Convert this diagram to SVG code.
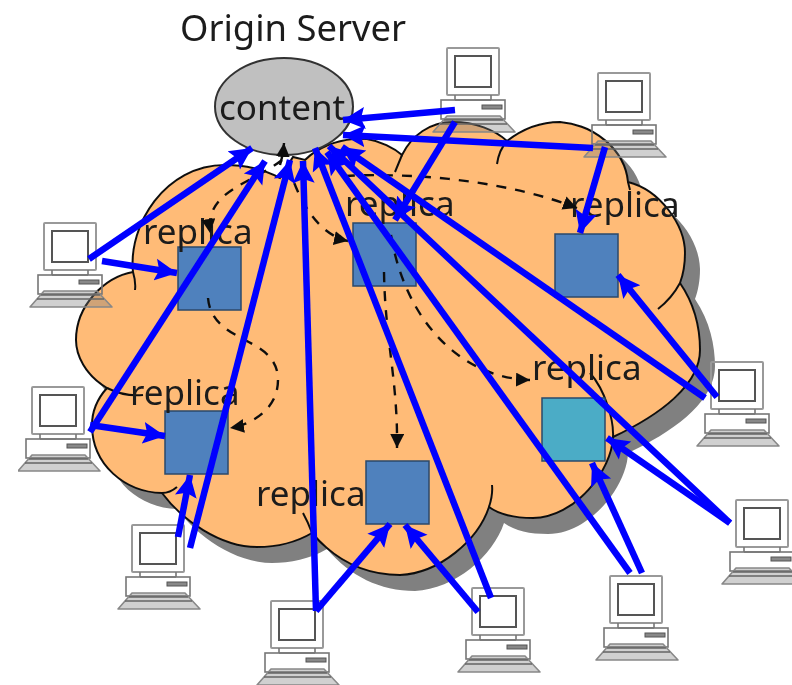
<svg xmlns="http://www.w3.org/2000/svg" xmlns:xlink="http://www.w3.org/1999/xlink" width="792" height="685" viewBox="0 0 792 685">
<style>
.t{font-family:"Noto Sans","Open Sans","Liberation Sans",sans-serif;font-size:35px;fill:#1a1a1a}
.sq{fill:#4f81bd;stroke:#2b4a6b;stroke-width:1.5}
.dash{fill:none;stroke:#111;stroke-width:2.4;stroke-dasharray:10 9}
.tail{fill:none;stroke:#111;stroke-width:2}
.blue{fill:none;stroke:#0000ff;stroke-width:6.5;marker-end:url(#bh)}
.mo{fill:none;stroke:#999;stroke-width:2}
.mi{fill:none;stroke:#555;stroke-width:2}
.ba{fill:none;stroke:#777;stroke-width:1.6}
</style>
<defs>
<filter id="soft" x="0" y="0" width="100%" height="100%"><feGaussianBlur stdDeviation="0.55"/></filter>
<marker id="bh" markerUnits="userSpaceOnUse" markerWidth="24" markerHeight="24" refX="22" refY="12" orient="auto"><path d="M0,1 L22,12 L0,23 L4,12 Z" fill="#0000ff"/></marker>
<marker id="kh" markerUnits="userSpaceOnUse" markerWidth="16" markerHeight="16" refX="14" refY="7" orient="auto"><path d="M0,0 L14,7 L0,14 Z" fill="#111"/></marker>
<path id="cloud" d="M133,272 C128,225 165,165 225,165 C245,165 265,170 280,178 L293,157 L305,160 C320,145 345,137 367,139 C380,141 394,148 402,155 C412,135 430,122 453,122 C475,122 495,130 507,141 C525,127 545,122 560,122 C595,125 625,150 628,182 C660,190 685,225 685,253 C685,265 683,275 680,283 C695,305 700,330 700,350 C700,385 660,415 613,437 C612,470 575,518 533,518 C515,518 500,515 489,507 C478,540 440,573 400,575 C365,575 335,560 312,533 C295,543 275,547 257,547 C220,547 182,520 162,493 C125,492 92,465 92,425 C92,410 98,398 107,388 C85,375 76,355 76,340 C76,305 105,277 133,272 Z"/>
<g id="pc">
<rect class="mo" x="0" y="0" width="52" height="47" rx="1"/>
<rect class="mi" x="8" y="8" width="36" height="31"/>
<path class="ba" d="M8,47 V52 M44,47 V52 M8,52 H44"/>
<rect class="ba" x="-6" y="52" width="64" height="19"/>
<rect x="35" y="57" width="20" height="4" fill="#888" stroke="#555"/>
<path d="M0,68 H53 L68,84 H-14 Z" fill="#777" fill-opacity=".35" stroke="#888" stroke-width="1.6" stroke-linejoin="round"/>
<path d="M-3,72 H56 M-7,76 H60" stroke="#666" stroke-width="1.6" fill="none"/>
</g>
</defs>
<g filter="url(#soft)">
<g id="cloud-shape">
<use href="#cloud" x="15" y="16" fill="#808080"/>
<use href="#cloud" fill="#ffbb77" stroke="#111" stroke-width="2"/>
<path class="tail" d="M133,272 Q136,282 135,290 M107,388 Q125,397 143,395 M162,493 Q170,493 177,487 M312,533 Q308,522 303,513 M489,507 Q493,495 492,485 M613,437 C614,420 605,390 590,373 M680,283 Q672,298 658,309 M628,182 L630,190 M507,141 Q499,150 497,164 M402,155 L395,172"/>
</g>
<g id="client-1"><use href="#pc" x="44" y="223"/></g>
<g id="client-2"><use href="#pc" x="447" y="48"/></g>
<g id="client-3"><use href="#pc" x="598" y="73"/></g>
<g id="client-4"><use href="#pc" x="711" y="362"/></g>
<g id="client-5"><use href="#pc" x="736" y="500"/></g>
<g id="client-6"><use href="#pc" x="610" y="576"/></g>
<g id="client-7"><use href="#pc" x="472" y="588"/></g>
<g id="client-8"><use href="#pc" x="271" y="601"/></g>
<g id="client-9"><use href="#pc" x="132" y="525"/></g>
<g id="client-10"><use href="#pc" x="32" y="387"/></g>
<g id="origin"><ellipse cx="284" cy="106.5" rx="69" ry="48.5" fill="#c0c0c0" stroke="#333" stroke-width="2"/><text class="t" x="219" y="120">content</text><text class="t" x="180" y="41" style="font-size:36.4px">Origin Server</text></g>
<g id="replica-a"><rect class="sq" x="178" y="247" width="63" height="63"/><text class="t" x="143" y="244">replica</text></g>
<g id="replica-b"><rect class="sq" x="353" y="223" width="63" height="63"/><text class="t" x="345" y="216">replica</text></g>
<g id="replica-c"><rect class="sq" x="555" y="234" width="63" height="63"/><text class="t" x="570" y="217">replica</text></g>
<g id="replica-d"><rect class="sq" x="542" y="398" width="63" height="63" style="fill:#4bacc6"/><text class="t" x="532" y="380">replica</text></g>
<g id="replica-e"><rect class="sq" x="165" y="411" width="63" height="63"/><text class="t" x="130" y="405">replica</text></g>
<g id="replica-f"><rect class="sq" x="366" y="461" width="63" height="63"/><text class="t" x="256" y="506">replica</text></g>
<g id="connectors">
<path class="dash" marker-end="url(#kh)" d="M280,165 Q283,155 284,143"/>
<path class="dash" marker-end="url(#kh)" d="M282,160 C250,185 205,190 210,233"/>
<path class="dash" marker-end="url(#kh)" d="M288,165 C300,205 320,235 348,241"/>
<path class="dash" marker-end="url(#kh)" d="M208,298 C212,345 278,335 278,380 C278,410 250,425 230,428"/>
<path class="dash" marker-end="url(#kh)" d="M384,272 C385,340 398,380 397,448"/>
<path class="dash" marker-end="url(#kh)" d="M391,235 C405,320 460,378 530,380"/>
<path class="dash" marker-end="url(#kh)" d="M345,176 C420,172 510,182 577,208"/>
<path class="blue" d="M89,259 L252,148"/>
<path class="blue" d="M102,261 L177,273"/>
<path class="blue" d="M90,432 L265,161"/>
<path class="blue" d="M90,425 L165,436"/>
<path class="blue" d="M178,537 L190,475"/>
<path class="blue" d="M190,548 L290,160"/>
<path class="blue" d="M316,611 L303,161"/>
<path class="blue" d="M316,611 L390,524"/>
<path class="blue" d="M478,612 L405,525"/>
<path class="blue" d="M491,598 L315,148"/>
<path class="blue" d="M630,573 L327,152"/>
<path class="blue" d="M642,573 L592,463"/>
<path class="blue" d="M730,523 L607,438"/>
<path class="blue" d="M730,523 L329,146"/>
<path class="blue" d="M705,398 L342,147"/>
<path class="blue" d="M717,397 L618,275"/>
<path class="blue" d="M455,110 L343,120"/>
<path class="blue" d="M455,122 L395,220"/>
<path class="blue" d="M593,148 L343,135"/>
<path class="blue" d="M605,147 L580,233"/>
</g>
</g>
</svg>
